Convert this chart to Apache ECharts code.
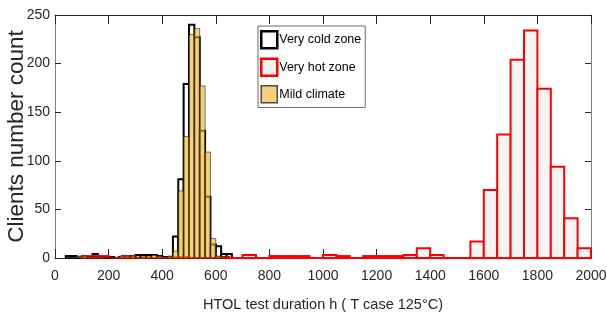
<!DOCTYPE html>
<html>
<head>
<meta charset="utf-8">
<script src="https://cdn.jsdelivr.net/npm/echarts@6/dist/echarts.min.js"></script>
<style>
  html, body { margin: 0; padding: 0; background: #fff; }
  #chart { width: 607px; height: 322px; }
</style>
</head>
<body>
<div id="chart"></div>
<script>
// bin layouts: [first bin start, bin width]
const coldStart = 40, coldWidth = 20;
const coldCounts = [2, 2, 1, 1, 1, 4, 1, 0, 1, 0, 1, 1, 2, 3, 3, 3, 3, 2, 1, 1,
  22, 81, 179, 240, 227, 131, 63, 14, 12, 4, 4];

const mildStart = 40, mildWidth = 20;
const mildCounts = [1, 1, 2, 2, 1, 1, 1, 0, 0, 1, 2, 2, 2, 1, 2, 2, 3, 2, 1, 2,
  7, 69, 125, 230, 236, 177, 109, 20, 2, 1];

const hotStart = 100, hotWidth = 50;
const hotCounts = [2, 2, 0, 2, 0, 0, 0, 1, 0, 0, 1, 0, 3, 0, 2, 2, 2, 0, 3, 2,
  0, 2, 2, 2, 3, 10, 3, 0, 0, 17, 70, 127, 204, 234, 174, 94, 41, 10];

const xTicks = { min: 0, max: 2000, step: 200 };
const yTicks = { min: 0, max: 250, step: 50 };

const toBins = (start, width, counts) =>
  counts.map((c, i) => [start + i * width, start + (i + 1) * width, c]);

const font = "'Liberation Sans', Arial, sans-serif";
const axisColor = "#262626";

function histSeries(name, data, style, z) {
  return {
    name,
    type: "custom",
    z,
    data,
    encode: { x: [0, 1], y: 2 },
    renderItem: (params, api) => {
      const top = api.coord([api.value(0), api.value(2)]);
      const base = api.coord([api.value(1), 0]);
      return {
        type: "rect",
        shape: { x: top[0], y: top[1], width: base[0] - top[0], height: base[1] - top[1] },
        style,
      };
    },
  };
}

const chart = echarts.init(document.getElementById("chart"));

const xCommon = {
  type: "value",
  min: xTicks.min,
  max: xTicks.max,
  interval: xTicks.step,
  splitLine: { show: false },
  axisLine: { onZero: false, lineStyle: { color: axisColor, width: 1 } },
  axisTick: { inside: true, length: 9, lineStyle: { color: axisColor } },
};
const yCommon = {
  type: "value",
  min: yTicks.min,
  max: yTicks.max,
  interval: yTicks.step,
  splitLine: { show: false },
  axisLine: { show: true, onZero: false, lineStyle: { color: "#808080", width: 1 } },
  axisTick: { show: true, inside: true, length: 6, lineStyle: { color: axisColor } },
};

chart.setOption({
  animation: false,
  grid: { left: 55, right: 16, top: 15, bottom: 64, outerBoundsMode: "none", containLabel: false },
  xAxis: [
    {
      ...xCommon,
      position: "bottom",
      axisLabel: { color: axisColor, fontFamily: font, fontSize: 14, margin: 11, formatter: (v) => String(v) },
      name: "HTOL test duration h ( T case 125°C)",
      nameLocation: "middle",
      nameGap: 39,
      nameMoveOverlap: false,
      nameTextStyle: { color: axisColor, fontFamily: font, fontSize: 14.5 },
    },
    { ...xCommon, position: "top", axisLabel: { show: false } },
  ],
  yAxis: [
    {
      ...yCommon,
      position: "left",
      axisLabel: { color: axisColor, fontFamily: font, fontSize: 14, margin: 5 },
      name: "Clients number count",
      nameLocation: "middle",
      nameGap: 27,
      nameMoveOverlap: false,
      nameTextStyle: { color: axisColor, fontFamily: font, fontSize: 22.5 },
    },
    { ...yCommon, position: "right", axisLabel: { show: false } },
  ],
  legend: {
    orient: "vertical",
    left: 258,
    top: 26,
    padding: [4, 4, 4, 2],
    itemWidth: 16,
    itemHeight: 17,
    itemGap: 8,
    backgroundColor: "#fff",
    borderColor: "#6b6b6b",
    borderWidth: 1,
    borderRadius: 0,
    textStyle: { color: "#000", fontFamily: font, fontSize: 12.5, padding: [0, 0, 0, -3] },
    data: [
      { name: "Very cold zone", icon: "rect", itemStyle: { color: "#fff", borderColor: "#000", borderWidth: 2.5 } },
      { name: "Very hot zone", icon: "rect", itemStyle: { color: "#f2f2f2", borderColor: "#ff0000", borderWidth: 2.5 } },
      { name: "Mild climate", icon: "rect", itemStyle: { color: "#f4d07a", borderColor: "#4a4a4a", borderWidth: 1.5 } },
    ],
  },
  series: [
    histSeries("Very cold zone", toBins(coldStart, coldWidth, coldCounts),
      { fill: "#fff", stroke: "#000", lineWidth: 2 }, 2),
    histSeries("Very hot zone", toBins(hotStart, hotWidth, hotCounts),
      { fill: "#f4f4f4", stroke: "#ff0000", lineWidth: 2 }, 3),
    histSeries("Mild climate", toBins(mildStart, mildWidth, mildCounts),
      { fill: "rgba(237,177,32,0.6)", stroke: "rgba(0,0,0,0.5)", lineWidth: 1 }, 4),
  ],
});
</script>
</body>
</html>
